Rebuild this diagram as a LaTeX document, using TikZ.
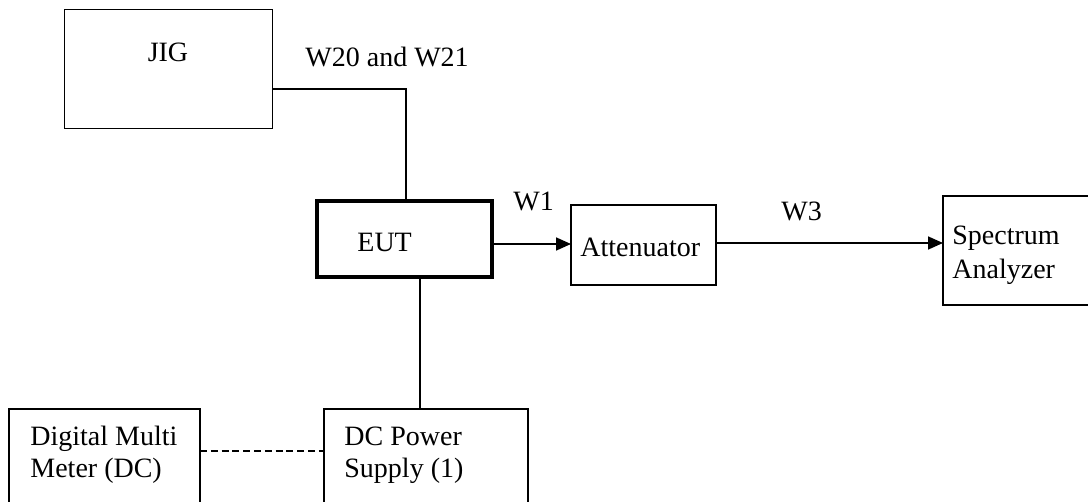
\documentclass[tikz,border=0pt]{standalone}
\usepackage{fontspec}
\setmainfont{Liberation Serif}
\usetikzlibrary{arrows.meta}
\begin{document}
\begin{tikzpicture}[x=0.5pt,y=-0.5pt,
  box/.style={draw, line width=0.85pt, inner sep=0pt, outer sep=0pt},
  thickbox/.style={box, line width=2.1pt},
  conn/.style={line width=0.85pt},
  arr/.style={conn, -{Triangle[length=7.5pt,width=6.5pt]}},
  dashconn/.style={conn, dash pattern=on 3.5pt off 1.9pt},
  txt/.style={inner sep=0pt, anchor=base west, font=\fontsize{14}{16}\selectfont},
  ctxt/.style={txt, anchor=base}]
\useasboundingbox (0,0) rectangle (1088,502);
\clip (0,0) rectangle (1088,502);
% boxes
\node[box, minimum width=104pt, minimum height=59.5pt] (jig) at (168.5,69) {};
\node[thickbox, minimum width=87.5pt, minimum height=38pt] (eut) at (404.5,239) {};
\node[box, minimum width=72.5pt, minimum height=40pt] (att) at (643.5,245) {};
\node[box, minimum width=83.5pt, minimum height=54.5pt] (sa) at (1026.5,250.5) {};
\node[box, minimum width=95.5pt, minimum height=55.5pt] (dmm) at (104.5,464.5) {};
\node[box, minimum width=102pt, minimum height=55.5pt] (dcps) at (426,464.5) {};
% texts
\node[ctxt] (tjig) at (168,62) {JIG};
\node[txt] (tw20) at (305,67) {W20 and W21};
\node[txt] (teut) at (357,252) {EUT};
\node[txt] (tw1) at (513,211) {W1};
\node[txt] (tatt) at (580,257) {Attenuator};
\node[txt] (tw3) at (781,221) {W3};
\node[txt] (tsa1) at (952,245) {Spectrum};
\node[txt] (tsa2) at (952,279) {Analyzer};
\node[txt] (tdmm1) at (30,445) {Digital Multi};
\node[txt] (tdmm2) at (30,478) {Meter (DC)};
\node[txt] (tdc1) at (344,445) {DC Power};
\node[txt] (tdc2) at (344,478) {Supply (1)};
% connectors
\coordinate (bend) at (406,89);
\draw[conn] (jig.east |- bend) -- (bend) -- (bend |- eut.north);
\coordinate (pw) at (420,340);
\draw[conn] (eut.south -| pw) -- (dcps.north -| pw);
\coordinate (w1y) at (530,244);
\draw[arr] (eut.east |- w1y) -- (att.west |- w1y);
\coordinate (w3y) at (800,243);
\draw[arr] (att.east |- w3y) -- (sa.west |- w3y);
\coordinate (dy) at (260,451);
\draw[dashconn] (dmm.east |- dy) -- (dcps.west |- dy);
\end{tikzpicture}
\end{document}
